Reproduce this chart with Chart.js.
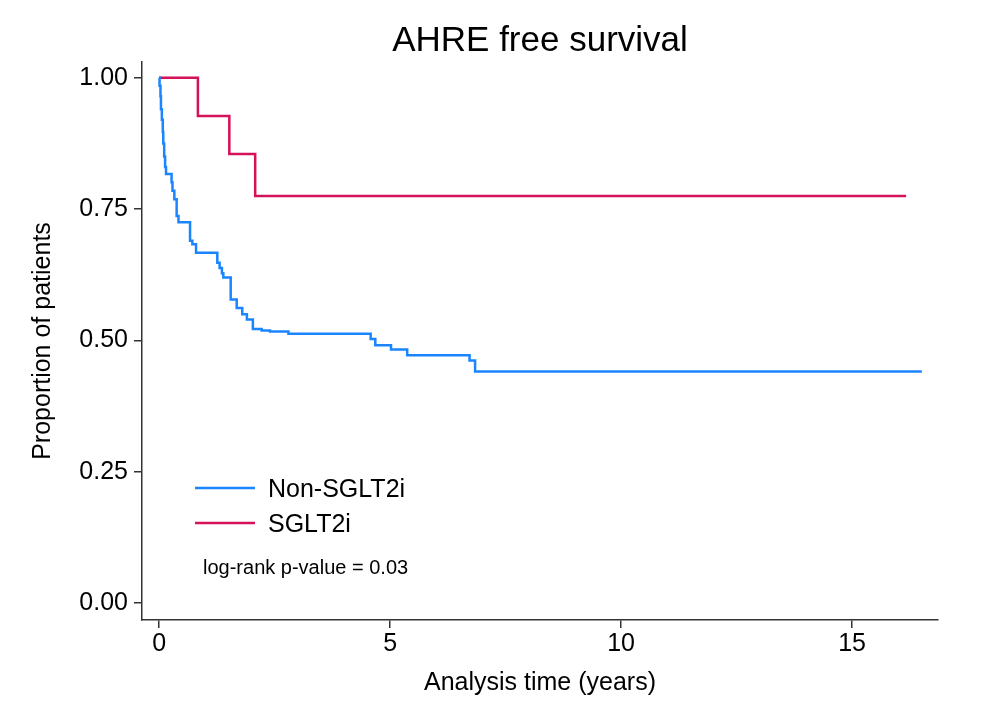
<!DOCTYPE html>
<html>
<head>
<meta charset="utf-8">
<script src="https://cdn.jsdelivr.net/npm/chart.js@4"></script>
<style>
  html, body { margin: 0; padding: 0; background: #fff; }
  #wrap { width: 986px; height: 714px; }
</style>
</head>
<body>
<div id="wrap"><canvas id="myChart" width="986" height="714"></canvas></div>
<script>
// Kaplan-Meier steps: time (years) and survival after each drop
const nonTimes = [0, 0.01, 0.03, 0.04, 0.06, 0.08, 0.09, 0.11, 0.13, 0.15, 0.27, 0.29, 0.33, 0.38, 0.42,
    0.67, 0.72, 0.80, 1.26, 1.31, 1.36, 1.39, 1.55, 1.68, 1.80, 1.90, 2.03, 2.22, 2.40, 2.80,
    4.58, 4.68, 5.02, 5.37, 6.72, 6.84, 16.51];
const nonSurv = [1.0, 0.985, 0.965, 0.94, 0.92, 0.897, 0.875, 0.85, 0.830, 0.817, 0.801, 0.785, 0.769, 0.737, 0.725,
    0.690, 0.683, 0.667, 0.648, 0.638, 0.628, 0.620, 0.578, 0.562, 0.550, 0.540, 0.522, 0.519, 0.517, 0.513,
    0.503, 0.491, 0.483, 0.472, 0.462, 0.441, 0.441];

const sgltTimes = [0, 0.84, 1.52, 2.08, 16.17];
const sgltSurv = [1.0, 0.927, 0.855, 0.775, 0.775];

const seriesNames = ['Non-SGLT2i', 'SGLT2i'];
const xTicks = [0, 5, 10, 15];
const yTicks = [0, 0.25, 0.5, 0.75, 1];
const titleText = 'AHRE free survival';
const pText = 'log-rank p-value = 0.03';

const blue = '#1a85ff';
const red = '#d41159';
const fontFam = '"Liberation Sans", Arial, Helvetica, sans-serif';

function toPoints(xs, ys) {
    let pts = [];
    for (let i = 0; i < xs.length; i++) {
        pts.push({ x: xs[i], y: ys[i] });
    }
    return pts;
}

// title centred over the plot region, like Stata does it
const plotTitle = {
    id: 'plotTitle',
    afterDraw(chart) {
        const ctx = chart.ctx;
        const a = chart.chartArea;
        ctx.save();
        ctx.fillStyle = '#000';
        ctx.font = '35px ' + fontFam;
        ctx.textAlign = 'center';
        ctx.textBaseline = 'middle';
        ctx.fillText(titleText, (a.left + a.right) / 2, 41);
        ctx.restore();
    }
};

// legend + p-value drawn inside the plot, lower left
const innerLegend = {
    id: 'innerLegend',
    afterDraw(chart) {
        const ctx = chart.ctx;
        const a = chart.chartArea;
        const rows = [
            { color: blue, label: chart.data.datasets[0].label, y: a.top + 426 },
            { color: red, label: chart.data.datasets[1].label, y: a.top + 461 }
        ];
        ctx.save();
        ctx.lineWidth = 2.5;
        ctx.textBaseline = 'middle';
        ctx.textAlign = 'left';
        ctx.fillStyle = '#000';
        ctx.font = '25px ' + fontFam;
        rows.forEach(function (r) {
            ctx.strokeStyle = r.color;
            ctx.beginPath();
            ctx.moveTo(a.left + 53, r.y);
            ctx.lineTo(a.left + 113, r.y);
            ctx.stroke();
            ctx.fillText(r.label, a.left + 126, r.y + 2);
        });
        ctx.font = '20px ' + fontFam;
        ctx.fillText(pText, a.left + 61, a.top + 506);
        ctx.restore();
    }
};

const config = {
    type: 'line',
    data: {
        datasets: [{
            label: seriesNames[0],
            data: toPoints(nonTimes, nonSurv),
            borderColor: blue,
            borderWidth: 2.5,
            stepped: true,
            pointRadius: 0,
            fill: false
        }, {
            label: seriesNames[1],
            data: toPoints(sgltTimes, sgltSurv),
            borderColor: red,
            borderWidth: 2.5,
            stepped: true,
            pointRadius: 0,
            fill: false
        }]
    },
    options: {
        responsive: false,
        animation: false,
        layout: { padding: { left: 0, right: 48, top: 62, bottom: 0 } },
        plugins: {
            legend: { display: false },
            tooltip: { enabled: false },
            title: { display: false }
        },
        scales: {
            x: {
                type: 'linear',
                min: -0.37,
                max: 16.86,
                afterFit: function (scale) { scale.height = 94; },
                afterBuildTicks: function (scale) {
                    scale.ticks = xTicks.map(v => ({ value: v }));
                },
                grid: { drawOnChartArea: false, drawTicks: true, tickLength: 8, color: '#333', lineWidth: 1.5 },
                border: { display: true, color: '#333', width: 1.5 },
                ticks: {
                    color: '#000',
                    padding: 1,
                    maxRotation: 0,
                    font: { family: fontFam, size: 25 },
                    callback: v => String(v)
                },
                title: {
                    display: true,
                    text: 'Analysis time (years)',
                    color: '#000',
                    font: { family: fontFam, size: 25 },
                    padding: { top: 0, bottom: 16 }
                }
            },
            y: {
                type: 'linear',
                min: -0.032,
                max: 1.03,
                afterFit: function (scale) { scale.width = 142; },
                afterBuildTicks: function (scale) {
                    scale.ticks = yTicks.map(v => ({ value: v }));
                },
                grid: { drawOnChartArea: false, drawTicks: true, tickLength: 8, color: '#333', lineWidth: 1.5 },
                border: { display: true, color: '#333', width: 1.5 },
                ticks: {
                    color: '#000',
                    padding: 6,
                    font: { family: fontFam, size: 25 },
                    callback: v => v.toFixed(2)
                },
                title: {
                    display: true,
                    text: 'Proportion of patients',
                    color: '#000',
                    font: { family: fontFam, size: 25 },
                    padding: { top: 28, bottom: 0 }
                }
            }
        }
    },
    plugins: [plotTitle, innerLegend]
};

const myChart = new Chart(document.getElementById('myChart'), config);
</script>
</body>
</html>
